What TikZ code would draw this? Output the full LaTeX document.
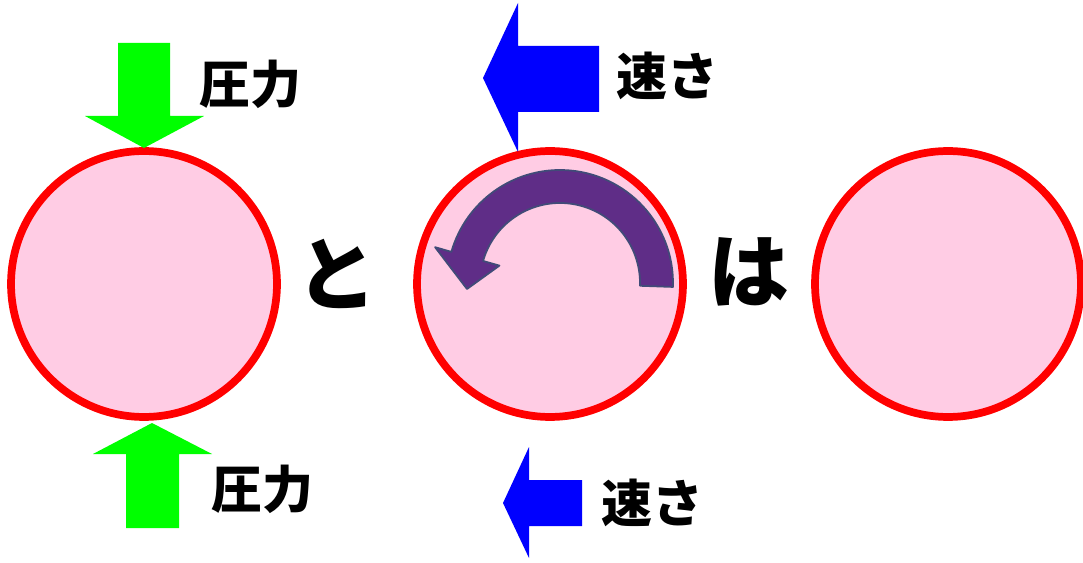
\documentclass[tikz,border=0pt]{standalone}
\usepackage{fontspec}
\newfontfamily\jpfont{Noto Sans CJK JP Black}
\usepackage{tikz}
\usetikzlibrary{positioning}
\definecolor{ballpink}{RGB}{255,204,228}
\definecolor{pushgreen}{RGB}{0,255,0}
\definecolor{flowblue}{RGB}{0,0,255}
\definecolor{twistfill}{RGB}{95,45,135}
\definecolor{twistline}{RGB}{65,75,120}
\begin{document}
\begin{tikzpicture}[x=0.02cm, y=0.02cm,
    ball/.style={circle, draw=red, line width=4.4pt, fill=ballpink, minimum size=5.32cm, inner sep=0pt},
    word/.style={font=\jpfont\fontsize{29}{29}\selectfont, inner sep=0pt},
    bigword/.style={font=\jpfont\fontsize{46}{46}\selectfont, inner sep=0pt}]
    \useasboundingbox (0,0) rectangle (1083,562);
    \foreach \i/\x in {1/144, 2/550, 3/948}
    {
    \node[ball] (ball\i) at (\x,278) {};
    }
    \fill[pushgreen] (118,519) -- (170,519) -- (170,446) -- (204,446) -- (144,414) -- (85,446) -- (118,446) -- cycle;
    \fill[pushgreen] (126,34) -- (179,34) -- (179,108) -- (212,108) -- (152,139) -- (93,108) -- (126,108) -- cycle;
    \fill[flowblue] (599,516) -- (518,516) -- (518,559) -- (483,484) -- (518,410) -- (518,450) -- (599,450) -- cycle;
    \fill[flowblue] (582,82) -- (529,82) -- (529,115) -- (503,59) -- (529,4) -- (529,36) -- (582,36) -- cycle;
    \begin{scope}[shift={(560,279)}]
        \filldraw[fill=twistfill, draw=twistline, line width=1pt, line join=round]
            (-2:113) arc[start angle=-2, end angle=164, radius=113] -- (164:130) -- (-93,-6)
            -- (164:63) -- (164:80) arc[start angle=164, end angle=-2, radius=80] -- cycle;
    \end{scope}
    \node[word] (pushtop) at (250,478) {圧力};
    \node[word] (pushbottom) at (262,73) {圧力};
    \node[word] (flowtop) at (667,486) {速さ};
    \node[word] (flowbottom) at (652,59) {速さ};
    \node[bigword] (andword) at (337,288) {と};
    \node[bigword] (isword) at (749,290) {は};
\end{tikzpicture}
\end{document}
